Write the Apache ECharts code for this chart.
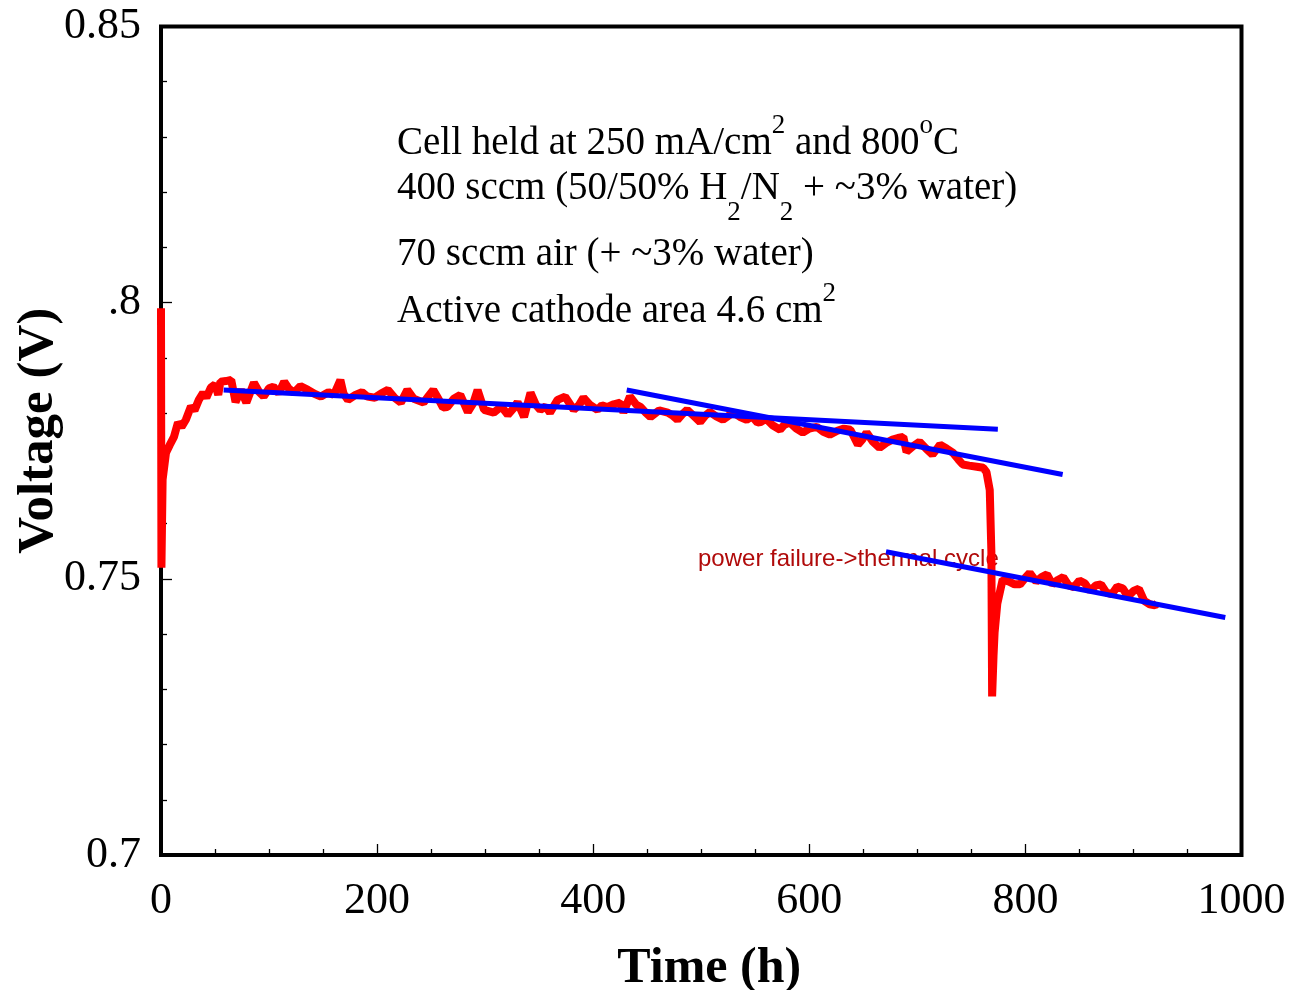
<!DOCTYPE html>
<html>
<head>
<meta charset="utf-8">
<title>Cell voltage vs time</title>
<script src="https://cdn.jsdelivr.net/npm/echarts@6/dist/echarts.min.js"></script>
<style>
  html, body { margin: 0; padding: 0; background: #fff; }
  #chart { width: 1290px; height: 990px; }
</style>
</head>
<body>
<div id="chart"></div>
<script>
// cell voltage readings [hours, volts], split by phase of the test
const rampUp = [
  [0, 0.799], [0.4, 0.752], [1.5, 0.768], [4.6, 0.7728], [8, 0.7742], [12, 0.7757],
  [15.7, 0.7783], [19, 0.7775], [23, 0.7788], [27.7, 0.7812], [31, 0.7805], [35, 0.7824],
  [39, 0.7837], [42, 0.7828], [46, 0.7846], [50, 0.7852], [53, 0.7833], [55, 0.7857], [60, 0.7858]
];
const plateau = [
  [65, 0.786], [69, 0.782], [74, 0.7842], [79, 0.7819], [86, 0.7855], [91, 0.7838], [95, 0.783],
  [100, 0.7845], [104, 0.7848], [109, 0.7836], [114, 0.7857], [118, 0.7845], [123, 0.7837],
  [129, 0.7849], [136, 0.7842], [142, 0.7835], [148, 0.783], [155, 0.7838], [160, 0.7833],
  [166, 0.786], [169, 0.7835], [173, 0.7824], [180, 0.7833], [186, 0.7838], [191, 0.783],
  [198, 0.7828], [204, 0.7836], [210, 0.7842], [216, 0.7828], [222, 0.7819], [228, 0.7842],
  [234, 0.7826], [243, 0.7819], [248, 0.7832], [252, 0.7842], [257, 0.7825], [261, 0.781],
  [265, 0.7811], [271, 0.7826], [277, 0.7833], [284, 0.7802], [289, 0.7818], [293, 0.7842],
  [299, 0.7806], [308, 0.7801], [315, 0.7812], [321, 0.7797], [326, 0.7808], [330, 0.782],
  [336, 0.7793], [342, 0.7837], [347, 0.7815], [351, 0.7806], [356, 0.7812], [360, 0.7801],
  [367, 0.7824], [374, 0.783], [378, 0.7818], [382, 0.7806], [387, 0.7815], [391, 0.7828],
  [397, 0.7815], [404, 0.7806], [408, 0.7814], [413, 0.7811], [419, 0.7816], [425, 0.7819], [428, 0.7801]
];
const decline = [
  [434, 0.783], [440, 0.7815], [444, 0.7811], [449, 0.78], [453, 0.7793], [461, 0.7805],
  [469, 0.7801], [474, 0.7795], [478, 0.7788], [483, 0.7799], [487, 0.7806], [493, 0.7795],
  [499, 0.7784], [504, 0.7796], [508, 0.7802], [514, 0.7794], [520, 0.7788], [525, 0.7795],
  [530, 0.7801], [536, 0.7793], [542, 0.7788], [547, 0.7794], [552, 0.7783], [555, 0.7784],
  [560, 0.779], [566, 0.7778], [573, 0.777], [577, 0.7779], [582, 0.7783], [588, 0.7772],
  [594, 0.7765], [600, 0.7772], [607, 0.7775], [613, 0.7766], [619, 0.7761], [626, 0.7768],
  [632, 0.7772], [638, 0.777], [645, 0.7743], [649, 0.7752], [653, 0.7765], [659, 0.7748],
  [665, 0.7737], [671, 0.7746], [677, 0.7752], [682, 0.7755], [687, 0.7757], [690, 0.773],
  [696, 0.774], [702, 0.7748], [708, 0.7736], [714, 0.7725], [718, 0.7735], [721, 0.7743],
  [727, 0.7736], [733, 0.7728], [738, 0.7716], [742, 0.7707], [748, 0.7705], [755, 0.7703],
  [761, 0.7701], [764, 0.7693], [767, 0.7661], [768.5, 0.755], [769.2, 0.7287]
];
const afterCycle = [
  [769.6, 0.7287], [770.5, 0.736], [771.5, 0.7403], [774, 0.7455], [779, 0.7499], [785, 0.7495],
  [790, 0.749], [795, 0.749], [800, 0.7502], [804, 0.7511], [810, 0.7495], [815, 0.7503],
  [820, 0.7508], [825, 0.749], [830, 0.7498], [835, 0.7503], [840, 0.7488], [845, 0.7485],
  [850, 0.7497], [855, 0.7492], [860, 0.7478], [865, 0.7488], [870, 0.749], [875, 0.7475],
  [880, 0.7472], [885, 0.7486], [890, 0.7483], [895, 0.7468], [900, 0.7478], [905, 0.7482],
  [910, 0.746], [915, 0.7454], [920, 0.7452], [922, 0.7456]
];

// straight-line fits drawn over the data
const fitEarly = [[58, 0.7842], [774.5, 0.7771]];
const fitLate = [[431, 0.7842], [834.5, 0.7689]];
const fitAfter = [[671, 0.7549], [985, 0.743]];

const serif = '"Liberation Serif", "Times New Roman", Times, serif';

const myChart = echarts.init(document.getElementById('chart'));

const noteRich = {
  m: {fontFamily: serif, fontSize: 39, color: '#000', verticalAlign: 'top', padding: [12, 0, 0, 0]},
  sup: {fontFamily: serif, fontSize: 27, color: '#000', verticalAlign: 'top'},
  sub: {fontFamily: serif, fontSize: 27, color: '#000', verticalAlign: 'top', padding: [42, 0, 0, 0]}
};

function noteLine(text, y) {
  return {
    type: 'text',
    x: 397,
    y: y,
    style: {text: text, rich: noteRich, verticalAlign: 'top', align: 'left'}
  };
}

const fitStyle = {color: '#0000ff', width: 5};

const option = {
  backgroundColor: '#fff',
  animation: false,
  grid: {
    left: 161,
    right: 48.5,
    top: 26.5,
    bottom: 135,
    containLabel: false,
    outerBoundsMode: 'none',
    show: true,
    borderColor: '#000',
    borderWidth: 4,
    backgroundColor: 'transparent'
  },
  xAxis: {
    type: 'value',
    min: 0,
    max: 1000,
    interval: 200,
    name: 'Time (h)',
    nameLocation: 'middle',
    nameGap: 89,
    nameMoveOverlap: false,
    nameTextStyle: {fontFamily: serif, fontSize: 50, fontWeight: 'bold', color: '#000', padding: [0, 0, 0, 16]},
    axisLine: {show: false},
    axisTick: {show: true, inside: true, length: 11, lineStyle: {color: '#000', width: 1.3}},
    minorTick: {show: true, splitNumber: 4, length: 6, lineStyle: {color: '#000', width: 1.3}},
    splitLine: {show: false},
    axisLabel: {fontFamily: serif, fontSize: 44, color: '#000', margin: 24, formatter: v => String(v)}
  },
  yAxis: {
    type: 'value',
    min: 0.7,
    max: 0.85,
    interval: 0.05,
    name: 'Voltage (V)',
    nameLocation: 'middle',
    nameGap: 97,
    nameMoveOverlap: false,
    nameTextStyle: {fontFamily: serif, fontSize: 51, fontWeight: 'bold', color: '#000', padding: [0, 0, 0, 20]},
    axisLine: {show: false},
    axisTick: {show: true, inside: true, length: 11, lineStyle: {color: '#000', width: 1.3}},
    minorTick: {show: true, splitNumber: 5, length: 6, lineStyle: {color: '#000', width: 1.3}},
    splitLine: {show: false},
    axisLabel: {
      fontFamily: serif, fontSize: 44, color: '#000', margin: 20,
      formatter: v => (Math.abs(v - 0.8) < 1e-9 ? '.8' : String(+v.toFixed(2)))
    }
  },
  graphic: [
    noteLine('{m|Cell held at 250 mA/cm}{sup|2}{m| and 800}{sup|o}{m|C}', 112),
    noteLine('{m|400 sccm (50/50% H}{sub|2}{m|/N}{sub|2}{m| + ~3% water)}', 157),
    noteLine('{m|70 sccm air (+ ~3% water)}', 223),
    noteLine('{m|Active cathode area 4.6 cm}{sup|2}', 280),
    {
      type: 'text',
      x: 698,
      y: 559,
      style: {
        text: 'power failure->thermal cycle',
        fontFamily: '"Liberation Sans", Arial, sans-serif',
        fontSize: 24,
        fill: '#b00a0a',
        verticalAlign: 'middle',
        align: 'left'
      }
    }
  ],
  series: [
    {
      type: 'line',
      data: rampUp.concat(plateau, decline, afterCycle),
      showSymbol: false,
      lineStyle: {color: '#ff0000', width: 8},
      z: 2
    },
    {type: 'line', data: fitEarly, showSymbol: false, lineStyle: fitStyle, z: 3},
    {type: 'line', data: fitLate, showSymbol: false, lineStyle: fitStyle, z: 3},
    {type: 'line', data: fitAfter, showSymbol: false, lineStyle: fitStyle, z: 3}
  ]
};

myChart.setOption(option);
window.addEventListener('resize', () => {
  myChart.resize();
});
</script>
</body>
</html>
